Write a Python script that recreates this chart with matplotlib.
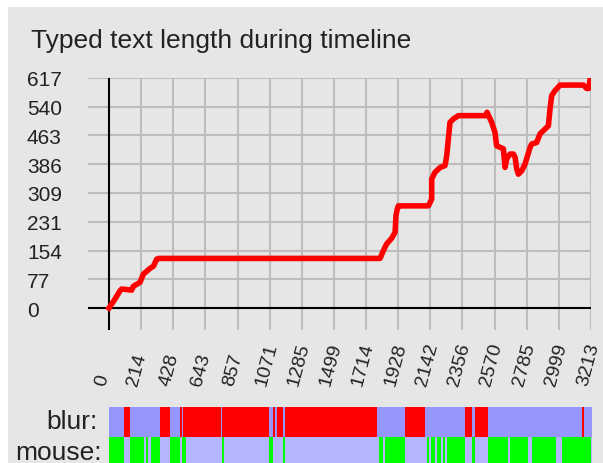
import numpy as np
import matplotlib
matplotlib.use("Agg")
import matplotlib.pyplot as plt

# typed text length over the timeline
t = [0, 40, 73, 85, 151, 162, 207, 229, 273, 296, 318, 330, 1807, 1829, 1851, 1884,
     1907, 1913, 1922, 1929, 2129, 2151, 2151, 2173, 2207, 2240, 2251, 2262, 2273,
     2295, 2329, 2515, 2520, 2551, 2573, 2584, 2607, 2629, 2640, 2651, 2673, 2696,
     2707, 2718, 2729, 2751, 2773, 2807, 2818, 2851, 2873, 2896, 2929, 2940, 2951,
     2973, 3007, 3162, 3184, 3198, 3207, 3213]
length = [0, 24, 46, 51, 48, 58, 69, 91, 106, 112, 131, 133, 133, 154, 172, 187,
          203, 248, 266, 274, 274, 292, 346, 364, 377, 382, 408, 453, 498,
          507, 516, 516, 525, 498, 471, 435, 431, 427, 377, 400, 413, 413,
          404, 373, 359, 368, 386, 431, 440, 444, 467, 476, 489, 534, 570,
          583, 598, 598, 589, 589, 614, 617]

xticks = [0, 214, 428, 643, 857, 1071, 1285, 1499, 1714, 1928, 2142, 2356, 2570, 2785, 2999, 3213]
yticks = [0, 77, 154, 231, 309, 386, 463, 540, 617]

# blur intervals (red) and mouse intervals (green)
blur = [(102, 142), (342, 409), (475, 485), (495, 745), (753, 1065), (1091, 1107),
        (1118, 1158), (1173, 1789), (1975, 2109), (2375, 2418), (2442, 2525), (3151, 3169)]
mouse = [(0, 102), (142, 235), (249, 260), (278, 342), (409, 475), (489, 513), (753, 769),
         (1065, 1091), (1158, 1173), (1802, 1827), (1840, 1975), (2120, 2133), (2147, 2173),
         (2187, 2215), (2227, 2242), (2255, 2375), (2418, 2442), (2525, 2658), (2671, 2791),
         (2818, 2978), (3018, 3213)]

W, H = 603, 464
bg = "#e6e6e6"
fonts = ["Liberation Sans", "DejaVu Sans"]
ink = "#222222"

fig = plt.figure(figsize=(W / 100, H / 100), dpi=100, facecolor="white")
fig.patches.append(plt.Rectangle((8 / W, 0), 1, 1 - 8 / H, transform=fig.transFigure,
                                 facecolor=bg, edgecolor="none", zorder=-10))

def box(l, top, r, b):
    return [l / W, 1 - b / H, (r - l) / W, (b - top) / H]

ax = fig.add_axes(box(88, 79, 591, 331))
ax.set_facecolor(bg)
ax.set_xlim(-140, 3213)
ax.set_ylim(-59, 617)
for s in ax.spines.values():
    s.set_visible(False)
ax.set_xticks(xticks)
ax.set_yticks(yticks)
ax.grid(True, color="#bdbdbd", lw=1.5)
ax.set_axisbelow(True)
ax.axhline(0, color="black", lw=1.5, zorder=1)
ax.axvline(0, color="black", lw=1.5, zorder=1)
ax.plot(t, length, color="red", lw=4, zorder=3)
ax.tick_params(length=0)
ax.tick_params(axis="y", pad=44)
ax.set_yticklabels([str(v) for v in yticks], ha="left", family=fonts, fontsize=15, color=ink)
ax.set_xticklabels([])
for v in xticks:
    ax.annotate(str(v), xy=(v, 0), xycoords=("data", "axes fraction"),
                xytext=(-3, -40.3), textcoords="offset points",
                rotation=75, rotation_mode="anchor", ha="left", va="baseline",
                family=fonts, fontsize=14, color=ink, annotation_clip=False)

fig.text(31 / W, 1 - 48 / H, "Typed text length during timeline", family=fonts,
         fontsize=19, color=ink, va="baseline")

# status bars
for name, ivals, base, on, top, bot, lx, ly in [
        ("blur:", blur, "#9696ff", "#ff0000", 408, 437.5, 98, 429),
        ("mouse:", mouse, "#b4b4ff", "#00ff00", 437.5, 464, 102, 460)]:
    bx = fig.add_axes(box(108.5, top, 592, bot))
    bx.set_facecolor(base)
    bx.broken_barh([(a, b - a) for a, b in ivals], (0, 1), facecolors=on)
    bx.set_xlim(-3, 3220)
    bx.set_ylim(0, 1)
    bx.set_axis_off()
    bx.add_patch(plt.Rectangle((0, 0), 1, 1, transform=bx.transAxes, facecolor=base, zorder=0))
    fig.text(lx / W, 1 - ly / H, name, family=fonts, fontsize=19, color=ink,
             ha="right", va="baseline")

fig.savefig("out.png", dpi=100, facecolor="white")
